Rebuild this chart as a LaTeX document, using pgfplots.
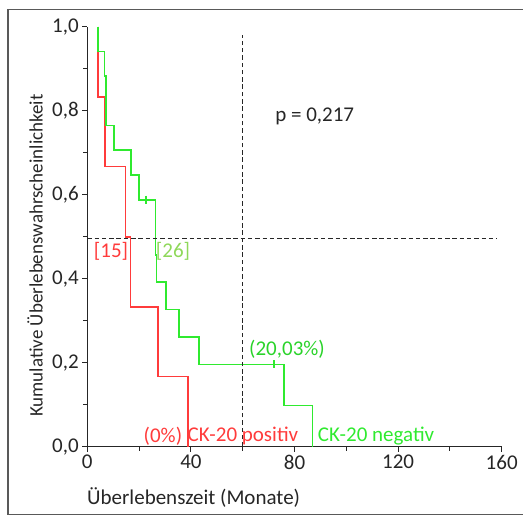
\documentclass[border=0pt]{standalone}
\usepackage{pgfplots}
\pgfplotsset{compat=1.18}
\usepackage{fontspec}
\setmainfont{Carlito}
\definecolor{kmred}{HTML}{FF3B3B}
\definecolor{kmgreen}{HTML}{2FEA2F}
\definecolor{lgreen}{HTML}{8FD85A}
\definecolor{txt}{HTML}{262626}
\begin{document}
\begin{tikzpicture}
\useasboundingbox (0pt,0pt) rectangle (523pt,516pt);
\draw[gray!70!black, line width=1.2pt] (523pt,1.3pt) -- (8pt,1.3pt) -- (8pt,506.7pt) -- (523pt,506.7pt);
\begin{axis}[
  at={(87.3pt,69.3pt)}, anchor=origin,
  scale only axis, width=414.4pt, height=420pt,
  xmin=0, xmax=160, ymin=0, ymax=1,
  axis x line*=bottom, axis y line*=left,
  axis line style={txt, line width=1.3pt, -},
  xtick={0,40,80,120,160}, minor xtick={20,60,100,140},
  ytick={0,0.2,0.4,0.6,0.8,1.0}, minor ytick={0.1,0.3,0.5,0.7,0.9},
  tick align=outside, major tick length=5pt, minor tick length=4pt,
  tick style={txt, line width=1.1pt},
  ticklabel style={font=\fontsize{21}{25}\selectfont, text=txt},
  /pgf/number format/assume math mode=true,
  yticklabel style={/pgf/number format/.cd, fixed, fixed zerofill, precision=1, use comma},
  xticklabel style={/pgf/number format/.cd, fixed, precision=0},
  clip=false,
]
\addplot[kmred, line width=1.7pt] coordinates {
(4,1)(4,0.833)(6.8,0.833)(6.8,0.667)(14.8,0.667)(14.8,0.5)(16.7,0.5)(16.7,0.333)
(27.2,0.333)(27.2,0.167)(38.8,0.167)(38.8,0)};
\addplot[kmgreen, line width=1.7pt] coordinates {
(4,1)(4,0.941)(6.6,0.941)(6.6,0.882)(7.2,0.882)(7.2,0.765)(10.2,0.765)(10.2,0.706)
(16.9,0.706)(16.9,0.647)(20,0.647)(20,0.588)(26.3,0.588)(26.3,0.457)(26.7,0.457)
(26.7,0.392)(30.3,0.392)(30.3,0.327)(35.3,0.327)(35.3,0.261)(43,0.261)(43,0.196)
(75.9,0.196)(75.9,0.098)(86.9,0.098)(86.9,0)};
\addplot[kmgreen, only marks, mark=|, mark size=4pt, mark options={line width=1.2pt}] coordinates {(22.7,0.588)(72.1,0.196)};
\addplot[txt, line width=1.4pt, dash pattern=on 4.5pt off 2.8pt] coordinates {(0,0.495)(158.3,0.495)};
\addplot[txt, line width=1.4pt, dash pattern=on 4.5pt off 2.8pt] coordinates {(60,0)(60,0.98)};
\node[text=txt, inner sep=0, font=\fontsize{21}{25}\selectfont] at (axis cs:87.8,0.787) {p = 0,217};
\node[text=kmred, inner sep=0, font=\fontsize{21}{25}\selectfont] at (axis cs:9.15,0.466) {[15]};
\node[text=lgreen, inner sep=0, font=\fontsize{21}{25}\selectfont] at (axis cs:33.1,0.466) {[26]};
\node[text=kmgreen!90!black, inner sep=0, font=\fontsize{21}{25}\selectfont] at (axis cs:77.1,0.233) {(20,03\%)};
\node[text=kmred, inner sep=0, font=\fontsize{21}{25}\selectfont] at (axis cs:29.2,0.025) {(0\%)};
\node[text=kmred, inner sep=0, font=\fontsize{21}{25}\selectfont] at (axis cs:60.1,0.025) {CK-20 positiv};
\node[text=kmgreen, inner sep=0, font=\fontsize{21}{25}\selectfont] at (axis cs:111.5,0.025) {CK-20 negativ};
\end{axis}
\node[anchor=west, inner sep=0, text=txt, font=\fontsize{21}{25}\selectfont] at (87pt,18pt) {Überlebenszeit (Monate)};
\node[anchor=west, rotate=90, inner sep=0, text=txt, font=\fontsize{19}{23}\selectfont] at (35pt,99pt) {Kumulative Überlebenswahrscheinlichkeit};
\end{tikzpicture}
\end{document}
